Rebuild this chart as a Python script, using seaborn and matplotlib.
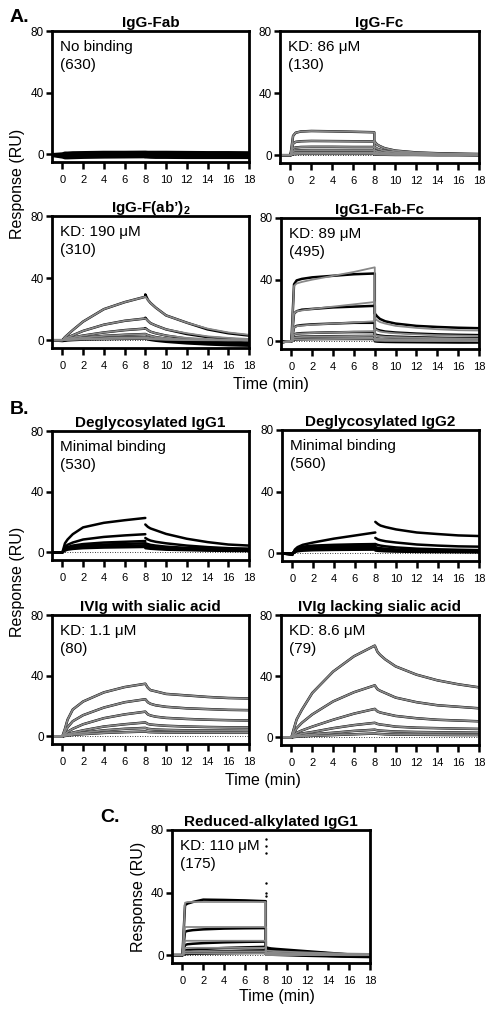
import pandas as pd
import matplotlib
matplotlib.use('Agg')
import matplotlib.pyplot as plt
import seaborn as sns

# sample times (min); t=8 appears twice: end of association, start of dissociation
TIME = [-1, 0, 0.25, 0.5, 1, 2, 4, 6, 8, 8, 8.25, 8.5, 9, 10, 12, 14, 16, 18]

# ---- A. IgG fragments ----
fab_data = [
    [0, 0.5, 1, 1, 1.2, 1.3, 1.5, 1.5, 1.6, 1.6, 1.5, 1.5, 1.5, 1.5, 1.4, 1.3, 1.3, 1.2],
    [0, 0, 0.3, 0.4, 0.5, 0.6, 0.8, 0.9, 1.0, 1.0, 0.9, 0.9, 0.9, 0.8, 0.8, 0.7, 0.7, 0.7],
    [0, -0.5, -0.3, -0.2, -0.1, 0, 0.2, 0.3, 0.4, 0.4, 0.3, 0.3, 0.3, 0.2, 0.2, 0.2, 0.1, 0.1],
    [0, -1, -1, -0.9, -0.8, -0.6, -0.4, -0.3, -0.2, -0.3, -0.4, -0.4, -0.5, -0.5, -0.5, -0.6, -0.6, -0.6],
    [-0.5, -1.5, -1.8, -1.7, -1.6, -1.4, -1.2, -1.1, -1.0, -1.0, -1.1, -1.2, -1.2, -1.3, -1.3, -1.4, -1.4, -1.4],
    [-1, -2, -2.5, -2.5, -2.4, -2.2, -2, -1.9, -1.8, -1.9, -2, -2.1, -2.2, -2.2, -2.3, -2.3, -2.3, -2.3],
]
fc_data = [
    [0, 0, 12.5, 14.5, 15.3, 15.6, 15.4, 15.1, 14.8, 9, 7, 6, 4.5, 3, 1.8, 1.3, 1, 0.8],
    [0, 0, 7.5, 8.6, 9, 9.2, 9.1, 9, 8.9, 5.5, 4.3, 3.7, 2.8, 2, 1.2, 0.9, 0.7, 0.5],
    [0, 0, 4.5, 5, 5.3, 5.4, 5.4, 5.3, 5.3, 3.3, 2.6, 2.2, 1.7, 1.2, 0.8, 0.6, 0.4, 0.3],
    [0, 0, 2.6, 3, 3.2, 3.3, 3.3, 3.3, 3.3, 2, 1.6, 1.3, 1, 0.8, 0.5, 0.4, 0.3, 0.2],
    [0, 0, 1.3, 1.6, 1.7, 1.8, 1.8, 1.8, 1.8, 1.1, 0.9, 0.7, 0.6, 0.4, 0.3, 0.2, 0.2, 0.1],
    [0, 0, 0.6, 0.8, 0.9, 0.9, 0.9, 0.9, 0.9, 0.5, 0.4, 0.3, 0.3, 0.2, 0.2, 0.1, 0.1, 0.1],
]
fab2_data = [
    [0, 0, 2, 3.5, 6.5, 12, 20, 24.5, 28, 29.5, 26, 24, 21, 16, 11.3, 7, 4.5, 3],
    [0, 0, 1, 1.8, 3.2, 6, 10, 12.5, 14, 14.5, 12.5, 11, 9.5, 7, 4, 2, 1, 0],
    [0, 0, 0.6, 1, 1.8, 3, 5, 6.5, 7.5, 7.8, 6.5, 5.5, 4.5, 3, 1, 0, -1, -1.5],
    [0, 0, 0.3, 0.5, 1, 1.7, 2.8, 3.5, 4, 4, 3.3, 2.8, 2, 1, -0.5, -1.2, -1.8, -2.2],
    [0, 0, 0.1, 0.3, 0.5, 0.9, 1.4, 1.8, 2, 2, 1.5, 1, 0.5, -0.3, -1.2, -2, -2.5, -3],
    [0, -0.5, -0.3, -0.1, 0.1, 0.4, 0.7, 0.9, 1, 1, 0.6, 0.2, -0.3, -1, -2, -2.7, -3.2, -3.5],
]
fab2_fit = [
    [0, 0, 2, 3.5, 6.5, 12, 20, 24.5, 28, 28, 26, 24, 21, 16, 11.3, 7.5, 5, 3.5],
    [0, 0, 1, 1.8, 3.2, 6, 10, 12.5, 14, 14, 12.5, 11, 9.5, 7, 4.5, 2.5, 1.5, 0.8],
    [0, 0, 0.6, 1, 1.8, 3, 5, 6.5, 7.5, 7.5, 6.5, 5.5, 4.5, 3, 1.5, 0.8, 0.3, 0],
    [0, 0, 0.3, 0.5, 1, 1.7, 2.8, 3.5, 4, 4, 3.3, 2.8, 2, 1.2, 0.5, 0.2, 0, 0],
    [0, 0, 0.1, 0.3, 0.5, 0.9, 1.4, 1.8, 2, 2, 1.6, 1.3, 1, 0.6, 0.3, 0.1, 0, 0],
    [0, 0, 0.1, 0.2, 0.3, 0.5, 0.7, 0.9, 1, 1, 0.8, 0.7, 0.5, 0.3, 0.1, 0, 0, 0],
]
fabfc_data = [
    [-0.5, 0, 37, 39.5, 40.5, 41.5, 42.5, 43.5, 44, 18, 16, 14.5, 13, 11.5, 10, 9.3, 8.8, 8.5],
    [-0.5, 0, 18, 19.5, 20.5, 21, 22, 22.5, 23, 8.5, 7.5, 7, 6.3, 5.7, 5, 4.5, 4.2, 4],
    [-0.5, 0, 9, 10, 10.5, 11, 11.5, 12, 12, 4.5, 4, 3.7, 3.3, 3, 2.6, 2.3, 2.1, 2],
    [-0.5, 0, 4.5, 5, 5.3, 5.5, 5.8, 6, 6, 2, 1.8, 1.6, 1.4, 1.2, 1, 0.8, 0.7, 0.6],
    [-0.5, 0, 2.5, 2.8, 3, 3.1, 3.3, 3.4, 3.5, 1, 0.8, 0.7, 0.5, 0.4, 0.2, 0.1, 0, 0],
    [-0.5, 0, 1, 1.2, 1.3, 1.4, 1.5, 1.5, 1.5, 0, -0.2, -0.3, -0.4, -0.5, -0.6, -0.7, -0.8, -0.8],
]
fabfc_fit = [
    [-0.5, 0, 36, 37.5, 38.5, 40, 42.5, 45, 48, 15, 13.5, 12.5, 11.5, 10, 8.7, 7.8, 7.2, 7],
    [-0.5, 0, 18, 19.5, 20, 21, 22.5, 24, 25.5, 8, 7, 6.3, 5.8, 5.2, 4.5, 4, 3.7, 3.5],
    [-0.5, 0, 9, 9.8, 10.2, 10.8, 11.5, 12.2, 13, 4, 3.6, 3.3, 3, 2.7, 2.3, 2, 1.8, 1.7],
    [-0.5, 0, 4.5, 4.9, 5.1, 5.4, 5.8, 6.2, 6.5, 2, 1.8, 1.6, 1.5, 1.3, 1.1, 1, 0.9, 0.8],
    [-0.5, 0, 2.4, 2.6, 2.8, 3, 3.2, 3.4, 3.6, 1, 0.9, 0.8, 0.7, 0.6, 0.5, 0.4, 0.4, 0.3],
    [-0.5, 0, 1.1, 1.2, 1.3, 1.4, 1.5, 1.6, 1.7, 0.5, 0.4, 0.4, 0.3, 0.3, 0.2, 0.2, 0.2, 0.1],
]

# ---- B. glycosylation ----
degly1_data = [
    [0, 0, 6, 8.5, 12, 16.5, 19.5, 21.2, 22.7, 18.4, 16.8, 15.8, 14.6, 12.2, 9, 6.8, 5.2, 4.5],
    [0, 0, 3.5, 5, 6.5, 8.5, 10.2, 11.2, 12, 9.5, 8.5, 7.8, 7, 6, 4.5, 3.5, 2.8, 2.5],
    [0, 0, 2.5, 3.5, 4.5, 5.5, 6.5, 7, 7.5, 6, 5.5, 5, 4.5, 3.8, 3, 2.5, 2.1, 1.9],
    [0, 0, 2, 3, 3.7, 4.5, 5.2, 5.6, 6, 4.8, 4.4, 4, 3.6, 3, 2.4, 2, 1.7, 1.5],
    [0, 0, 1.6, 2.4, 3, 3.6, 4.1, 4.4, 4.7, 3.8, 3.5, 3.2, 2.9, 2.4, 1.9, 1.6, 1.3, 1.2],
    [0, 0, 1.2, 1.8, 2.3, 2.8, 3.2, 3.4, 3.6, 2.8, 2.6, 2.4, 2.2, 1.8, 1.5, 1.2, 1, 0.9],
]
degly2_data = [
    [0, -1, 2.5, 4, 5.5, 7, 9.5, 11.5, 13.5, 20.4, 19, 18, 17, 15.5, 13.5, 12.5, 11.6, 11.2],
    [0, -1, 2, 3.2, 4.3, 5, 5.5, 5.8, 6, 10, 9, 8.5, 7.8, 7, 5.7, 5, 4.5, 4.3],
    [0, -0.5, 1.8, 2.8, 3.6, 4.2, 4.6, 4.8, 5, 6, 5.4, 5, 4.5, 3.8, 3, 2.6, 2.3, 2.1],
    [0, -0.5, 1.5, 2.3, 3, 3.5, 3.8, 4, 4.2, 4, 3.6, 3.3, 3, 2.5, 2, 1.7, 1.5, 1.4],
    [0, 0, 1.2, 1.8, 2.4, 2.8, 3, 3.2, 3.3, 2.8, 2.5, 2.3, 2, 1.7, 1.3, 1.1, 1, 0.9],
    [0, 0, 0.8, 1.3, 1.7, 2, 2.2, 2.3, 2.4, 1.8, 1.6, 1.5, 1.3, 1.1, 0.9, 0.8, 0.7, 0.6],
]
sia_data = [
    [0, 0, 5, 11, 17.7, 23, 29, 32.5, 34.7, 34.7, 32, 30.5, 29.7, 28, 27, 26, 25.3, 25],
    [0, 0, 3, 6, 10, 14, 19, 22.5, 24.5, 24.5, 22.5, 21.5, 20.5, 19.5, 18.5, 18, 17.5, 17.3],
    [0, 0, 1.5, 3, 5, 8, 12, 14.5, 16.3, 16.3, 14.5, 13.8, 13, 12.2, 11.5, 11, 10.7, 10.5],
    [0, 0, 0.8, 1.5, 2.5, 4, 6.5, 8, 9.2, 9.2, 8.2, 7.8, 7.5, 7, 6.5, 6.2, 6, 5.9],
    [0, 0, 0.5, 1, 1.5, 2.5, 4, 5, 5.6, 5.6, 5, 4.8, 4.5, 4.3, 4, 3.9, 3.8, 3.7],
    [0, 0, 0.3, 0.5, 1, 1.5, 2.3, 2.8, 3.2, 3.2, 2.9, 2.8, 2.7, 2.6, 2.5, 2.5, 2.4, 2.4],
]
nosia_data = [
    [0, 0, 6, 11.7, 18, 29, 43, 53, 60, 60, 56, 54, 51, 46.4, 41, 37.3, 34.7, 32.7],
    [0, 0, 3, 6, 9.5, 15, 23.5, 29.5, 34, 34, 31.5, 30.5, 29, 26, 23, 21, 20, 19],
    [0, 0, 1.5, 3, 4.5, 7, 11.5, 15.5, 18.6, 18.6, 17, 16.3, 15.5, 14, 12.5, 11.5, 11, 10.5],
    [0, 0, 0.8, 1.5, 2.5, 3.5, 6, 8, 9.5, 9.5, 8.8, 8.4, 8, 7, 6.3, 6, 5.7, 5.5],
    [0, 0, 0.4, 0.8, 1.3, 2, 3, 4.2, 5, 5, 4.6, 4.4, 4.2, 3.8, 3.5, 3.3, 3.2, 3],
    [0, 0, 0.2, 0.4, 0.6, 1, 1.5, 2, 2.5, 2.5, 2.3, 2.2, 2, 1.8, 1.7, 1.6, 1.5, 1.5],
]

# ---- C. reduced-alkylated ----
redalk_data = [
    [0, 0, 32, 33, 34, 35.5, 35.3, 35, 34.5, 5, 4.6, 4.3, 4, 3.5, 2.5, 1.5, 0.5, -0.5],
    [0, 0, 15, 15.5, 16, 16.5, 17, 17.2, 17.3, 4, 3.8, 3.6, 3.3, 2.8, 2, 1.2, 0.4, -0.3],
    [0, 0, 6.5, 7, 7.3, 7.7, 8.2, 8.5, 8.7, 3, 2.8, 2.6, 2.4, 2, 1.4, 0.8, 0.2, -0.4],
    [0, 0, 3, 3.3, 3.6, 4, 4.6, 5, 5.3, 2, 1.8, 1.7, 1.5, 1.2, 0.8, 0.3, -0.2, -0.6],
    [0, 0, 1.5, 1.7, 1.9, 2.2, 2.6, 2.9, 3.1, 1, 0.9, 0.8, 0.7, 0.4, 0, -0.4, -0.8, -1],
    [0, 0, 0.7, 0.8, 0.9, 1, 1.2, 1.4, 1.5, 0.5, 0.4, 0.3, 0.2, 0, -0.4, -0.7, -1, -1.2],
]
redalk_fit = [
    [0, 0, 33.5, 34, 34, 34, 34, 34, 34, 3, 2.8, 2.7, 2.5, 2.2, 1.7, 1.3, 1, 0.8],
    [0, 0, 18, 18, 18, 18, 18, 18, 18, 1.8, 1.7, 1.6, 1.5, 1.3, 1, 0.8, 0.6, 0.5],
    [0, 0, 9.2, 9.2, 9.2, 9.2, 9.2, 9.2, 9.2, 1, 1, 0.9, 0.8, 0.7, 0.6, 0.5, 0.4, 0.3],
    [0, 0, 4.7, 4.7, 4.7, 4.7, 4.7, 4.7, 4.7, 0.6, 0.6, 0.5, 0.5, 0.4, 0.3, 0.3, 0.2, 0.2],
    [0, 0, 2.4, 2.4, 2.4, 2.4, 2.4, 2.4, 2.4, 0.3, 0.3, 0.3, 0.2, 0.2, 0.2, 0.1, 0.1, 0.1],
    [0, 0, 1.2, 1.2, 1.2, 1.2, 1.2, 1.2, 1.2, 0.2, 0.2, 0.1, 0.1, 0.1, 0.1, 0.1, 0, 0],
]
redalk_spikes = [74, 70, 65, 46, 40, 38]

GRAY = '#888888'
W, H = 491, 1016

sns.set_theme(style='white', rc={'text.color': 'black', 'axes.labelcolor': 'black',
                                 'xtick.color': 'black', 'ytick.color': 'black'})
plt.rcParams['font.family'] = ['Liberation Sans', 'DejaVu Sans']
plt.rcParams['mathtext.fontset'] = 'custom'
plt.rcParams['mathtext.bf'] = 'Liberation Sans:bold'
plt.rcParams['mathtext.rm'] = 'Liberation Sans'


def to_frame(curves, split):
    rows = []
    for i, vals in enumerate(curves):
        for j, (t, v) in enumerate(zip(TIME, vals)):
            unit = str(i)
            if split:
                unit = f'{i}a' if j < 9 else f'{i}d'
            rows.append({'time': t, 'ru': v, 'unit': unit})
    return pd.DataFrame(rows)


def panel(box, title, note, data, fit=None, split=False):
    x0, x1, yt, yb = box
    ax = fig.add_axes([x0 / W, 1 - yb / H, (x1 - x0) / W, (yb - yt) / H])
    ax.axhline(0, color='black', lw=0.6, ls=(0, (1, 2)), zorder=1)
    sns.lineplot(data=to_frame(data, split), x='time', y='ru', units='unit',
                 estimator=None, sort=False, color='black', lw=1.8, ax=ax, legend=False)
    if fit is not None:
        sns.lineplot(data=to_frame(fit, split), x='time', y='ru', units='unit',
                     estimator=None, sort=False, color=GRAY, lw=1.3, ax=ax, legend=False)
    ax.set_xlim(-1, 18)
    ax.set_ylim(-5, 80)
    ax.set_xticks(range(0, 19, 2))
    ax.set_yticks([0, 40, 80])
    ax.set_xlabel('')
    ax.set_ylabel('')
    for s in ax.spines.values():
        s.set_linewidth(2)
        s.set_color('black')
    ax.tick_params(axis='x', bottom=True, length=4.8, width=1.8, labelsize=8, pad=4.5)
    ax.tick_params(axis='y', left=True, length=4.5, width=1.8, labelsize=8.5, pad=1.5)
    ax.set_title(title, fontsize=11, fontweight='bold', pad=3)
    ax.text(0.04, 0.93, note, transform=ax.transAxes, va='top', ha='left',
            fontsize=11, linespacing=1.35)
    return ax


fig = plt.figure(figsize=(W / 100, H / 100), dpi=100)

panel((52, 249, 31, 162), 'IgG-Fab', 'No binding\n(630)', fab_data)
panel((280, 479, 31, 163), 'IgG-Fc', 'KD: 86 μM\n(130)', fc_data, fc_data)
panel((52, 249, 216, 348), r'IgG-F(ab’)$_\mathbf{2}$', 'KD: 190 μM\n(310)', fab2_data, fab2_fit)
panel((281, 479, 218, 349), 'IgG1-Fab-Fc', 'KD: 89 μM\n(495)', fabfc_data, fabfc_fit)

panel((52, 249, 431, 560), 'Deglycosylated IgG1', 'Minimal binding\n(530)', degly1_data, split=True)
panel((282, 479, 430, 561), 'Deglycosylated IgG2', 'Minimal binding\n(560)', degly2_data, split=True)
panel((52, 249, 615, 744), 'IVIg with sialic acid', 'KD: 1.1 μM\n(80)', sia_data, sia_data)
panel((281, 479, 615, 745), 'IVIg lacking sialic acid', 'KD: 8.6 μM\n(79)', nosia_data, nosia_data)

axc = panel((172, 370, 830, 963), 'Reduced-alkylated IgG1', 'KD: 110 μM\n(175)',
            redalk_data, redalk_fit)
sns.scatterplot(x=[8] * len(redalk_spikes), y=redalk_spikes, color='black', s=3,
                linewidth=0, ax=axc, legend=False)

# panel letters and shared axis labels
for lbl, x, y in [('A.', 10, 18), ('B.', 10, 410), ('C.', 100, 818)]:
    fig.text(x / W, 1 - y / H, lbl, fontsize=14, fontweight='bold', va='center', ha='left')
for x, y in [(18, 184), (18, 582), (138, 897)]:
    fig.text(x / W, 1 - y / H, 'Response (RU)', rotation=90, fontsize=11.5,
             va='center', ha='center')
for x, y in [(271, 385), (263, 780), (277, 997)]:
    fig.text(x / W, 1 - y / H, 'Time (min)', fontsize=11.5, va='center', ha='center')

fig.savefig('out.png', dpi=100)
